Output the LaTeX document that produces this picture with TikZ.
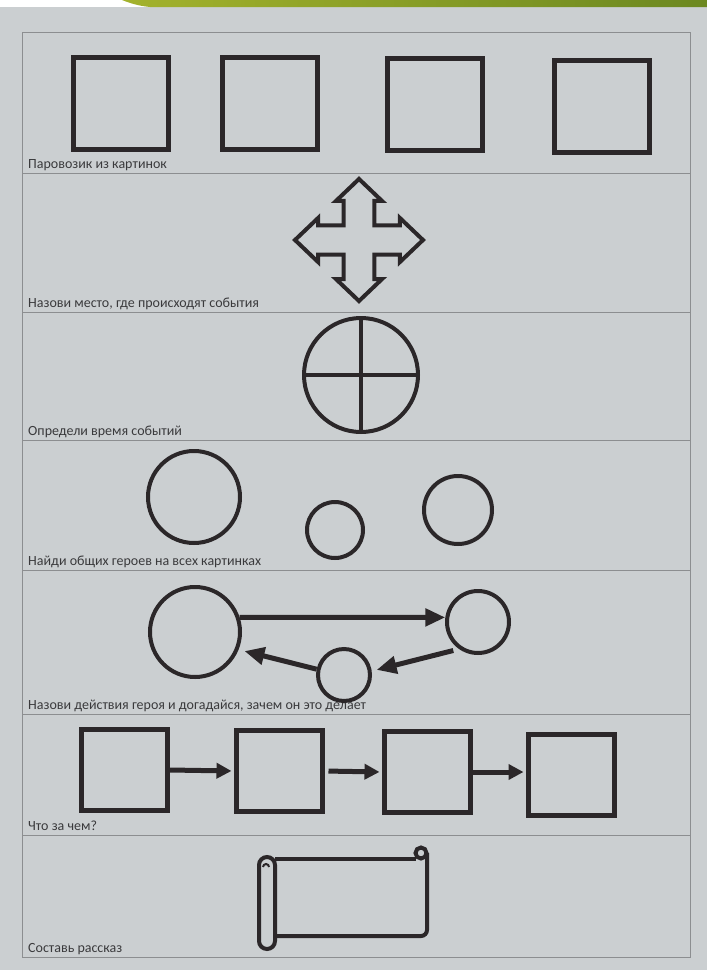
\documentclass[tikz,border=0pt]{standalone}
\usepackage{fontspec}
\setmainfont{Carlito}
\usepackage{xcolor}
\usetikzlibrary{arrows.meta, positioning}

\definecolor{ink}{HTML}{2B2729}
\definecolor{labelgray}{HTML}{3A3A3C}
\definecolor{linegray}{HTML}{8C8E90}
\definecolor{paper}{HTML}{CBCFD1}
\definecolor{greenA}{HTML}{A3B22C}
\definecolor{greenB}{HTML}{6C8820}

\begin{document}
\begin{tikzpicture}[x=1pt, y=-1pt,
    framebox/.style={rectangle, draw=ink, line width=5pt, minimum width=95pt, minimum height=92pt, inner sep=0pt},
    stepbox/.style={rectangle, draw=ink, line width=5pt, minimum width=86pt, minimum height=81pt, inner sep=0pt},
    hero/.style={circle, draw=ink, line width=4pt, inner sep=0pt},
    rowlabel/.style={anchor=base west, text=labelgray, font=\fontsize{14}{16}\selectfont, inner sep=0pt},
    rowline/.style={draw=linegray, line width=1pt},
    icon/.style={draw=ink, line width=4pt, line join=miter},
    arrow/.style={draw=ink, line width=5pt, -{Triangle[length=20pt, width=17pt]}},
    steparrow/.style={draw=ink, line width=5pt, -{Triangle[length=15pt, width=15pt]}}]

    % page and top band
    \useasboundingbox (0,0) rectangle (707,970);
    \fill[paper] (0,0) rectangle (707,970);
    \fill[white] (0,0) rectangle (707,7);
    \shade[left color=greenA, right color=greenB] (122,0) .. controls (132,4) and (140,6) .. (150,7) -- (707,7) -- (707,0) -- cycle;

    % table
    \draw[rowline] (22,32) rectangle (690,957);
    \draw[rowline] (22,173) -- (690,173);
    \draw[rowline] (22,312) -- (690,312);
    \draw[rowline] (22,440) -- (690,440);
    \draw[rowline] (22,570) -- (690,570);
    \draw[rowline] (22,714) -- (690,714);
    \draw[rowline] (22,835) -- (690,835);

    % row labels
    \node[rowlabel] (lab1) at (28,168) {Паровозик из картинок};
    \node[rowlabel] (lab2) at (28,307) {Назови место, где происходят события};
    \node[rowlabel] (lab3) at (28,435) {Определи время событий};
    \node[rowlabel] (lab4) at (28,565) {Найди общих героев на всех картинках};
    \node[rowlabel] (lab5) at (28,709) {Назови действия героя и догадайся, зачем он это делает};
    \node[rowlabel] (lab6) at (28,830) {Что за чем?};
    \node[rowlabel] (lab7) at (28,952) {Составь рассказ};

    % row 1: picture train
    \node[framebox] (pic1) at (121,103) {};
    \node[framebox] (pic2) at (270,103) {};
    \node[framebox] (pic3) at (435,104) {};
    \node[framebox] (pic4) at (602,106) {};

    % row 2: place
    \begin{scope}[shift={(359,240)}, x=64pt, y=-61pt]
    \draw[icon] (0,-1) -- (0.36,-0.64) -- (0.24,-0.64) -- (0.24,-0.24) -- (0.64,-0.24) -- (0.64,-0.36)
        -- (1,0) -- (0.64,0.36) -- (0.64,0.24) -- (0.24,0.24) -- (0.24,0.64) -- (0.36,0.64)
        -- (0,1) -- (-0.36,0.64) -- (-0.24,0.64) -- (-0.24,0.24) -- (-0.64,0.24) -- (-0.64,0.36)
        -- (-1,0) -- (-0.64,-0.36) -- (-0.64,-0.24) -- (-0.24,-0.24) -- (-0.24,-0.64) -- (-0.36,-0.64) -- cycle;
    \end{scope}

    % row 3: time
    \node[hero, minimum size=114pt] (clock) at (361,375) {};
    \draw[icon] (clock.north) -- (clock.south);
    \draw[icon] (clock.west) -- (clock.east);

    % row 4: common heroes
    \node[hero, minimum size=92pt] (big4) at (194,497) {};
    \node[hero, minimum size=56pt] (small4) at (335,530) {};
    \node[hero, minimum size=68pt] (right4) at (458,510) {};

    % row 5: actions
    \node[hero, minimum size=90pt] (big5) at (195,632) {};
    \node[hero, minimum size=62pt] (right5) at (478,622) {};
    \node[hero, minimum size=52pt] (small5) at (344,675) {};
    \draw[arrow] (big5.18) -- (right5.172);
    \draw[arrow, shorten <=6pt, shorten >=5pt] (right5.235) -- (small5.8);
    \draw[arrow, shorten >=6pt] (small5.168) -- (big5.-22);

    % row 6: sequence
    \node[stepbox] (seq1) at (124,770) {};
    \node[stepbox] (seq2) at (279,771) {};
    \node[stepbox] (seq3) at (427,772) {};
    \node[stepbox] (seq4) at (571,775) {};
    \draw[steparrow, shorten >=2pt] (seq1.east) -- (seq2.west);
    \draw[steparrow, shorten <=4pt, shorten >=2pt] (seq2.east) -- (seq3.west);
    \draw[steparrow, shorten >=2pt] (seq3.east) -- (seq3.east -| seq4.west);

    % row 7: scroll
    \draw[icon, rounded corners=8pt] (259,857) rectangle (275,949);
    \draw[icon] (275,859) -- (416,859);
    \draw[icon, rounded corners=6pt] (427,853) -- (427,936) -- (275,936);
    \draw[icon] (421,853) circle[radius=5.5];
    \draw[ink, line width=2pt] (263,867) arc[start angle=180, end angle=360, radius=3];
\end{tikzpicture}
\end{document}
